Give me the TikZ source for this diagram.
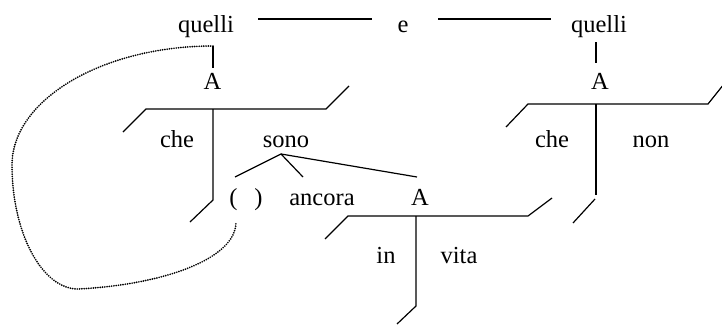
\documentclass[tikz,border=0pt]{standalone}
\usepackage{fontspec}
\setmainfont{Liberation Serif}
\begin{document}
\begin{tikzpicture}[x=1pt,y=-1pt,
  lbl/.style={font=\fontsize{24.5}{29}\selectfont, inner sep=0pt, anchor=base},
  ln/.style={line width=1.2pt},
  dotl/.style={line width=1.9pt, dash pattern=on 0pt off 2.3pt, line cap=round}]
\useasboundingbox (0,0) rectangle (722,324);
\clip (0,0) rectangle (722,324);
% labels
\node[lbl] (q1) at (206,32) {quelli};
\node[lbl] (e) at (403,32) {e};
\node[lbl] (q2) at (599,32) {quelli};
\node[lbl] (A1) at (212.5,89) {A};
\node[lbl] (che1) at (177,147) {che};
\node[lbl] (sono) at (286,147) {sono};
\node[lbl] (A2) at (600,89) {A};
\node[lbl] (che2) at (552,147) {che};
\node[lbl] (non) at (651,147) {non};
\node[lbl] (pl) at (233.5,205) {(};
\node[lbl] (pr) at (258.5,205) {)};
\node[lbl] (ancora) at (322,205) {ancora};
\node[lbl] (A3) at (420,205) {A};
\node[lbl] (in) at (386,263) {in};
\node[lbl] (vita) at (459,263) {vita};
% coordinates
\coordinate (h1a) at (258,19); \coordinate (h1b) at (372,19);
\coordinate (h2a) at (438,19); \coordinate (h2b) at (551,19);
\coordinate (v1t) at (213,46); \coordinate (v1b) at (213,68);
\coordinate (L1l) at (146,109); \coordinate (L1r) at (326,109); \coordinate (L1m) at (213,109);
\coordinate (L1ls) at (123,132); \coordinate (L1rs) at (349,86);
\coordinate (L1vb) at (213,200); \coordinate (L1ve) at (190,222);
\coordinate (sap) at (281,154);
\coordinate (s1) at (235,177); \coordinate (s2) at (303,177); \coordinate (s3) at (417,177);
\coordinate (L3l) at (348,216); \coordinate (L3r) at (528,216); \coordinate (L3m) at (416,216);
\coordinate (L3ls) at (325,239); \coordinate (L3rs) at (552,198);
\coordinate (L3vb) at (416,306); \coordinate (L3ve) at (397,324);
\coordinate (v2t) at (596,42); \coordinate (v2b) at (596,63);
\coordinate (L2l) at (528,104); \coordinate (L2r) at (708,104); \coordinate (L2m) at (596,104);
\coordinate (L2ls) at (506,127); \coordinate (L2rs) at (724,84);
\coordinate (L2vb) at (596,195); \coordinate (L2s1) at (595,199); \coordinate (L2s2) at (573,223);
\coordinate (d0) at (213,46); \coordinate (d1) at (12,165); \coordinate (d2) at (78,289); \coordinate (d3) at (236,222);
% lines
\draw[ln] (h1a) -- (h1b);
\draw[ln] (h2a) -- (h2b);
\draw[ln] (v1t) -- (v1b);
\draw[ln] (L1ls) -- (L1l) -- (L1r) -- (L1rs);
\draw[ln] (L1m) -- (L1vb) -- (L1ve);
\draw[ln] (s1) -- (sap) -- (s2);
\draw[ln] (sap) -- (s3);
\draw[ln] (L3ls) -- (L3l) -- (L3r) -- (L3rs);
\draw[ln] (L3m) -- (L3vb) -- (L3ve);
\draw[ln] (v2t) -- (v2b);
\draw[ln] (L2ls) -- (L2l) -- (L2r) -- (L2rs);
\draw[ln] (L2m) -- (L2vb);
\draw[ln] (L2s1) -- (L2s2);
% dotted loop
\draw[dotl] (d0) .. controls (102,46) and (12,100) .. (d1)
  .. controls (12,233) and (42,289) .. (d2)
  .. controls (160,285) and (236,260) .. (d3);
\end{tikzpicture}
\end{document}
